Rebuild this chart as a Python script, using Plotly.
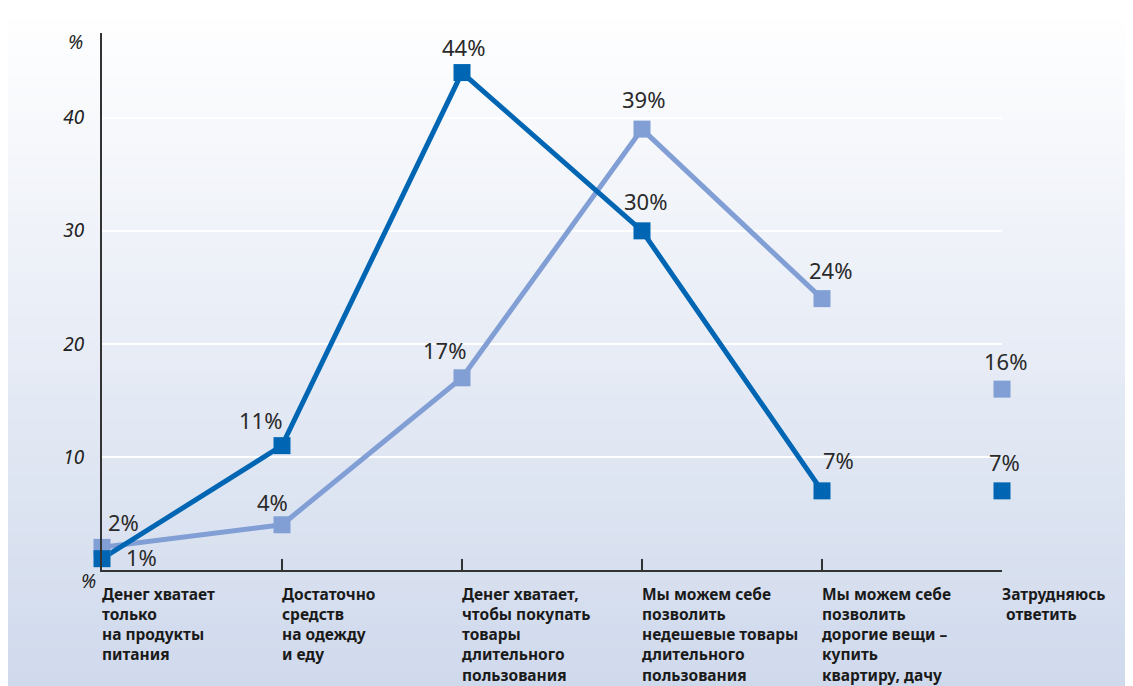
import plotly.graph_objects as go

categories = [
    "Денег хватает<br>только<br>на продукты<br>питания",
    "Достаточно<br>средств<br>на одежду<br>и еду",
    "Денег хватает,<br>чтобы покупать<br>товары<br>длительного<br>пользования",
    "Мы можем себе<br>позволить<br>недешевые товары<br>длительного<br>пользования",
    "Мы можем себе<br>позволить<br>дорогие вещи –<br>купить<br>квартиру, дачу",
    "Затрудняюсь<br> ответить",
]
dark_values = [1, 11, 44, 30, 7, 7]
light_values = [2, 4, 17, 39, 24, 16]
y_ticks = [10, 20, 30, 40]

# label offsets in pixels (style only)
dark_off = [(39, -2), (-22, -26), (1, -26), (3, -30), (16, -31), (2, -29)]
light_off = [(21, -25), (-10, -23), (-18, -28), (1, -30), (8, -29), (3, -28)]

DARK = "#0066B3"
LIGHT = "#819FD5"
W, H = 1133, 686
OFF = 8  # page body margin
ML, MT = 102 - OFF, 33 - OFF
MR = W - 1002 + OFF
MB = H - 570 + OFF
PW, PH = W - ML - MR, H - MT - MB

xs = list(range(len(categories)))

fig = go.Figure()

# background gradient (white -> light blue) in paper coordinates
n = 60
top_c = (255, 255, 255)
bot_c = (207, 217, 236)
for i in range(n):
    p0 = i * H / n
    p1 = (i + 1) * H / n
    t = (i + 0.5) / n
    c = tuple(int(round(top_c[k] + (bot_c[k] - top_c[k]) * t)) for k in range(3))
    fig.add_shape(
        type="rect", xref="paper", yref="paper", layer="below",
        x0=-ML / PW, x1=(W - ML) / PW,
        y0=(H - MB - p1 - 0.5) / PH, y1=(H - MB - p0 + 0.5) / PH,
        fillcolor="rgb(%d,%d,%d)" % c, line=dict(width=0),
    )

# lines (last category is not connected)
fig.add_trace(go.Scatter(x=xs[:5], y=light_values[:5], mode="lines",
                         line=dict(color=LIGHT, width=5), cliponaxis=False, hoverinfo="skip"))
fig.add_trace(go.Scatter(x=xs[:5], y=dark_values[:5], mode="lines",
                         line=dict(color=DARK, width=5), cliponaxis=False, hoverinfo="skip"))

fig.add_trace(go.Scatter(x=xs, y=light_values, mode="markers",
                         marker=dict(symbol="square", size=17, color=LIGHT), cliponaxis=False))
fig.add_trace(go.Scatter(x=xs, y=dark_values, mode="markers",
                         marker=dict(symbol="square", size=17, color=DARK), cliponaxis=False))

for vals, offs in ((light_values, light_off), (dark_values, dark_off)):
    for i, v in enumerate(vals):
        fig.add_annotation(x=i, y=v, xref="x", yref="y", text=f"{v}%", showarrow=False,
                           xanchor="center", yanchor="middle",
                           xshift=offs[i][0], yshift=-offs[i][1],
                           font=dict(family="Noto Sans", size=22, color="#2a2a2a"))

# category labels
for i, c in enumerate(categories):
    fig.add_annotation(x=i, y=0, xref="x", yref="y", text=c, showarrow=False,
                       xanchor="left", yanchor="top", align="left", yshift=-11, xshift=-2,
                       font=dict(family="Noto Sans", size=15.5, color="#1a1a1a", weight="bold"))

# % marks
fig.add_annotation(x=-27 / PW, y=1.0, xref="paper", yref="paper", text="%", showarrow=False,
                   xanchor="center", yanchor="middle", yshift=-9,
                   font=dict(family="Noto Sans", size=19, color="#222222", style="italic"))
fig.add_annotation(x=-14 / PW, y=0, xref="paper", yref="y", text="%", showarrow=False,
                   xanchor="center", yanchor="middle", yshift=-11,
                   font=dict(family="Noto Sans", size=19, color="#222222", style="italic"))

fig.update_layout(
    width=W, height=H,
    margin=dict(l=ML, r=MR, t=MT, b=MB),
    paper_bgcolor="rgba(0,0,0,0)", plot_bgcolor="rgba(0,0,0,0)",
    showlegend=False,
    xaxis=dict(range=[0, len(categories) - 1], tickvals=xs, showticklabels=False,
               ticks="inside", ticklen=11, tickcolor="#333333", tickwidth=1.5,
               showgrid=False, zeroline=False, showline=True, linecolor="#333333", linewidth=2),
    yaxis=dict(range=[0, 47.5], tickvals=y_ticks, ticks="", showgrid=True,
               gridcolor="#FFFFFF", gridwidth=1.5, zeroline=False,
               showline=True, linecolor="#333333", linewidth=2,
               tickfont=dict(family="Noto Sans", size=19, color="#222222", style="italic"),
               ticklabelstandoff=12),
)

fig.write_html("out.html")
